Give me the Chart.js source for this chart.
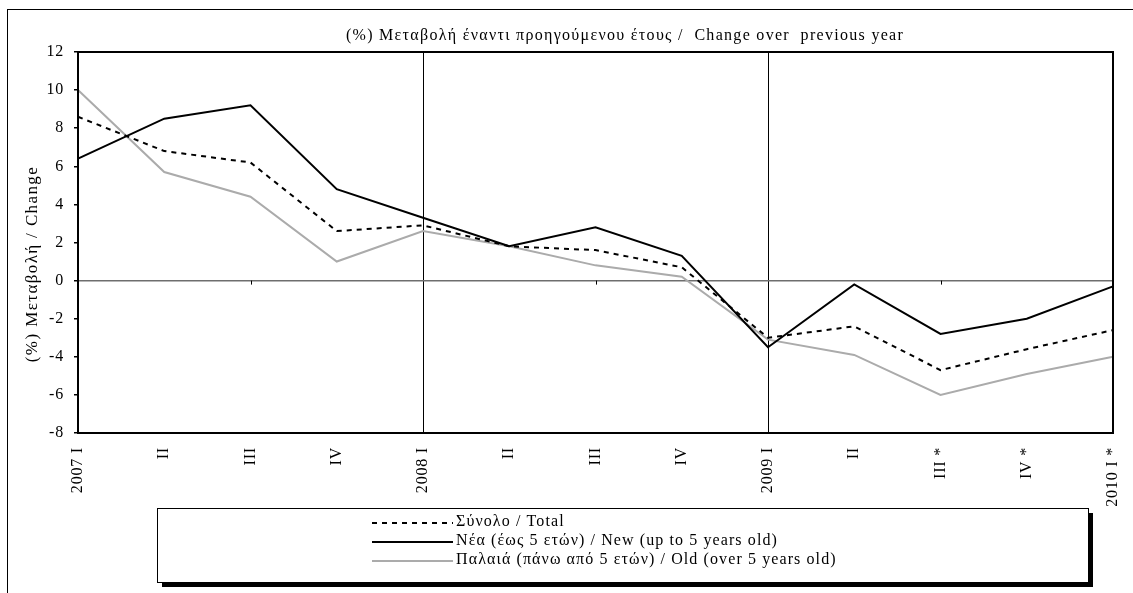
<!DOCTYPE html>
<html>
<head>
<meta charset="utf-8">
<script src="https://cdn.jsdelivr.net/npm/chart.js@4.4.1/dist/chart.umd.min.js"></script>
<style>
    html, body { margin: 0; padding: 0; background: #fff; overflow: hidden; }
    #wrap { position: relative; width: 1133px; height: 593px; }
    #frame { position: absolute; left: 7px; top: 9px; width: 1300px; height: 800px; border: 1px solid #000; }
    #chart { position: absolute; left: 0; top: 0; }
</style>
</head>
<body>
<div id="wrap">
    <div id="frame"></div>
    <canvas id="chart" width="1133" height="593"></canvas>
</div>
<script>
// quarters, 2007 I to 2010 I
const quarters = ['2007 I', 'II', 'III', 'IV', '2008 I', 'II', 'III', 'IV', '2009 I', 'II', 'III *', 'IV *', '2010 I *'];

// % change over previous year
const totalChange = [8.6, 6.8, 6.2, 2.6, 2.9, 1.8, 1.6, 0.7, -3.0, -2.4, -4.7, -3.6, -2.6];
const newChange = [6.4, 8.5, 9.2, 4.8, 3.3, 1.8, 2.8, 1.3, -3.5, -0.2, -2.8, -2.0, -0.3];
const oldChange = [10.0, 5.7, 4.4, 1.0, 2.6, 1.8, 0.8, 0.2, -3.1, -3.9, -6.0, -4.9, -4.0];

const seriesLabels = [
    'Σύνολο / Total',
    'Νέα (έως 5 ετών) / New (up to 5 years old)',
    'Παλαιά (πάνω από 5 ετών) / Old (over 5 years old)'
];

const yTicks = [-8, -6, -4, -2, 0, 2, 4, 6, 8, 10, 12];

const titleText = '(%) Μεταβολή έναντι προηγούμενου έτους /  Change over  previous year';
const yTitleText = '(%) Μεταβολή / Change';

const serif = '"Liberation Serif", "Times New Roman", serif';

// slightly wider letter spacing for the axis tick text
const spacing = {
    id: 'spacing',
    beforeDraw(chart) { chart.ctx.letterSpacing = '0.8px'; },
    afterDraw(chart) { chart.ctx.letterSpacing = '0px'; }
};

// plot border, zero-line ticks, titles and the boxed legend
const decorations = {
    id: 'decorations',
    afterDatasetsDraw(chart) {
        const { ctx, chartArea: a, scales } = chart;
        ctx.save();

        // small ticks under the zero line every second quarter
        const y0 = scales.y.getPixelForValue(0);
        ctx.strokeStyle = '#000';
        ctx.lineWidth = 1;
        quarters.forEach((q, i) => {
            if (i % 2 === 0 && i % 4 !== 0) {
                const x = Math.round(scales.x.getPixelForValue(i)) + 0.5;
                ctx.beginPath();
                ctx.moveTo(x, y0);
                ctx.lineTo(x, y0 + 4);
                ctx.stroke();
            }
        });

        ctx.lineWidth = 2;
        ctx.strokeRect(a.left, a.top, a.right - a.left, a.bottom - a.top);

        ctx.fillStyle = '#000';
        ctx.font = '16px ' + serif;
        ctx.letterSpacing = '1.3px';
        ctx.textAlign = 'center';
        ctx.textBaseline = 'middle';
        ctx.fillText(titleText, 625, 36);

        ctx.save();
        ctx.translate(33, 264);
        ctx.rotate(-Math.PI / 2);
        ctx.font = '17px ' + serif;
        ctx.letterSpacing = '1.4px';
        ctx.fillText(yTitleText, 0, 0);
        ctx.restore();

        // legend box with shadow
        const lx = 157, ly = 508, lw = 931, lh = 74;
        ctx.fillRect(lx + 5, ly + 5, lw, lh);
        ctx.fillStyle = '#fff';
        ctx.fillRect(lx, ly, lw, lh);
        ctx.lineWidth = 1;
        ctx.strokeStyle = '#000';
        ctx.strokeRect(lx + 0.5, ly + 0.5, lw, lh);

        ctx.textAlign = 'left';
        ctx.font = '16px ' + serif;
        ctx.letterSpacing = '1.1px';
        chart.data.datasets.forEach((ds, i) => {
            const ry = 522 + i * 19;
            ctx.strokeStyle = ds.borderColor;
            ctx.lineWidth = ds.borderWidth;
            ctx.setLineDash(ds.borderDash || []);
            ctx.beginPath();
            ctx.moveTo(372, ry + 1);
            ctx.lineTo(453, ry + 1);
            ctx.stroke();
            ctx.setLineDash([]);
            ctx.fillStyle = '#000';
            ctx.fillText(ds.label, 456, ry);
        });

        ctx.restore();
    }
};

new Chart(document.getElementById('chart'), {
    type: 'line',
    data: {
        labels: quarters,
        datasets: [
            {
                label: seriesLabels[0],
                data: totalChange,
                borderColor: '#000',
                borderWidth: 2,
                borderDash: [5, 5]
            },
            {
                label: seriesLabels[1],
                data: newChange,
                borderColor: '#000',
                borderWidth: 2
            },
            {
                label: seriesLabels[2],
                data: oldChange,
                borderColor: '#ababab',
                borderWidth: 2
            }
        ]
    },
    options: {
        responsive: false,
        animation: false,
        devicePixelRatio: 1,
        layout: { padding: { left: 0, top: 52, right: 20, bottom: 85 } },
        elements: { point: { radius: 0 }, line: { tension: 0 } },
        plugins: {
            legend: { display: false },
            tooltip: { enabled: false }
        },
        scales: {
            x: {
                offset: false,
                afterFit: scale => {
                    scale.height = 75;
                    scale.paddingLeft = 0;
                    scale.paddingRight = 0;
                },
                grid: {
                    color: c => (c.index === 4 || c.index === 8) ? '#000' : 'rgba(0,0,0,0)',
                    lineWidth: 1,
                    drawTicks: false
                },
                border: { display: true, color: '#000', width: 2 },
                ticks: {
                    autoSkip: false,
                    maxRotation: 90,
                    minRotation: 90,
                    padding: 14,
                    color: '#000',
                    font: { family: serif, size: 16 }
                }
            },
            y: {
                min: -8,
                max: 12,
                afterFit: scale => {
                    scale.width = 78;
                    scale.paddingTop = 0;
                    scale.paddingBottom = 0;
                },
                afterBuildTicks: scale => { scale.ticks = yTicks.map(v => ({ value: v })); },
                grid: {
                    color: c => c.tick && c.tick.value === 0 ? '#6e6e6e' : 'rgba(0,0,0,0)',
                    lineWidth: 1.5,
                    tickLength: 4,
                    tickColor: '#000'
                },
                border: { display: true, color: '#000', width: 2 },
                ticks: {
                    padding: 10,
                    color: '#000',
                    font: { family: serif, size: 16 }
                }
            }
        }
    },
    plugins: [spacing, decorations]
});
</script>
</body>
</html>
